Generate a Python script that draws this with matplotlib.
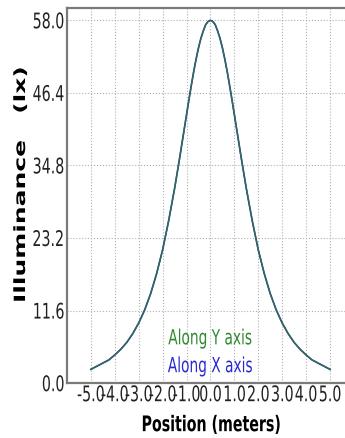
import matplotlib.pyplot as plt
from matplotlib.patheffects import AbstractPathEffect
from matplotlib.transforms import Affine2D

plt.rcParams['axes.unicode_minus'] = False

# position (m) and illuminance (lx) (symmetric)
pos_half = [0.0, 0.1, 0.2, 0.3, 0.4, 0.5, 0.6, 0.7, 0.8, 0.9, 1.0, 1.1, 1.2,
            1.3, 1.4, 1.5, 1.75, 2.0, 2.25, 2.5, 2.75, 3.0, 3.25, 3.5, 3.75,
            4.0, 4.25, 4.5, 4.75, 5.0]
lux_half = [58.0, 57.8, 57.3, 56.3, 55.1, 53.6, 51.8, 49.8, 47.6, 45.3, 42.9,
            40.5, 38.1, 35.7, 33.4, 31.1, 25.9, 21.3, 17.5, 14.3, 11.7, 9.6,
            7.9, 6.5, 5.4, 4.5, 3.7, 3.2, 2.7, 2.2]

position = [-p for p in pos_half[:0:-1]] + pos_half
along_x = lux_half[:0:-1] + lux_half
along_y = lux_half[:0:-1] + lux_half

x_ticks = [-5.0, -4.0, -3.0, -2.0, -1.0, 0.0, 1.0, 2.0, 3.0, 4.0, 5.0]
y_ticks = [0.0, 11.6, 23.2, 34.8, 46.4, 58.0]


class Squash(AbstractPathEffect):
    """Narrow the glyphs of a text (the reference image is squeezed sideways)."""
    def __init__(self, sx=1.0, sy=1.0, anchor='center'):
        super().__init__()
        self.sx, self.sy, self.anchor = sx, sy, anchor

    def draw_path(self, renderer, gc, tpath, affine, rgbFace=None):
        ext = tpath.get_extents()
        cx = ext.x1 if self.anchor == 'right' else (ext.x0 + ext.x1) / 2
        cy = (ext.y0 + ext.y1) / 2
        sq = Affine2D().translate(-cx, -cy).scale(self.sx, self.sy).translate(cx, cy)
        renderer.draw_path(gc, tpath, sq + affine, rgbFace)


SX = 0.66

fig = plt.figure(figsize=(3.45, 4.39), dpi=100)
ax = fig.add_axes([0.194, 0.125, 0.832, 0.855])

ax.plot(position, along_x, color='#3030b0', lw=1.2)
ax.plot(position, along_y, color='#2e6e52', lw=1.0)

ax.set_xlim(-6, 6)
ax.set_ylim(0, 60)
ax.set_xticks(x_ticks)
ax.set_yticks(y_ticks)
ax.set_xticklabels(['%.1f' % t for t in x_ticks])
ax.set_yticklabels(['%.1f' % t for t in y_ticks])
ax.tick_params(labelsize=15.5, length=0, colors='#222222')
ax.tick_params(axis='x', pad=1.5)
ax.tick_params(axis='y', pad=1.5)
for lab in ax.get_xticklabels():
    lab.set_path_effects([Squash(SX)])
for lab in ax.get_yticklabels():
    lab.set_path_effects([Squash(SX, anchor='right')])

ax.grid(True, ls=':', color='#b0b0b0', lw=0.8)
for s in ax.spines.values():
    s.set_color('#7a7a7a')
    s.set_linewidth(1.6)

ax.set_xlabel('Position (meters)', fontsize=15.5, fontweight='bold', va='center',
              path_effects=[Squash(SX)])
ax.xaxis.set_label_coords(0.502, -0.112)
ax.set_ylabel('Illuminance   (lx)', fontsize=18, fontweight='bold', va='center',
              path_effects=[Squash(1.0, 0.62)])
ax.yaxis.set_label_coords(-0.160, 0.53)

ax.text(0.0, 6.2, 'Along Y axis', color='#2f8a2f', fontsize=15,
        ha='center', va='baseline', path_effects=[Squash(SX)])
ax.text(0.0, 1.75, 'Along X axis', color='#2a2ad0', fontsize=15,
        ha='center', va='baseline', path_effects=[Squash(SX)])

fig.savefig('out.png', dpi=100)
